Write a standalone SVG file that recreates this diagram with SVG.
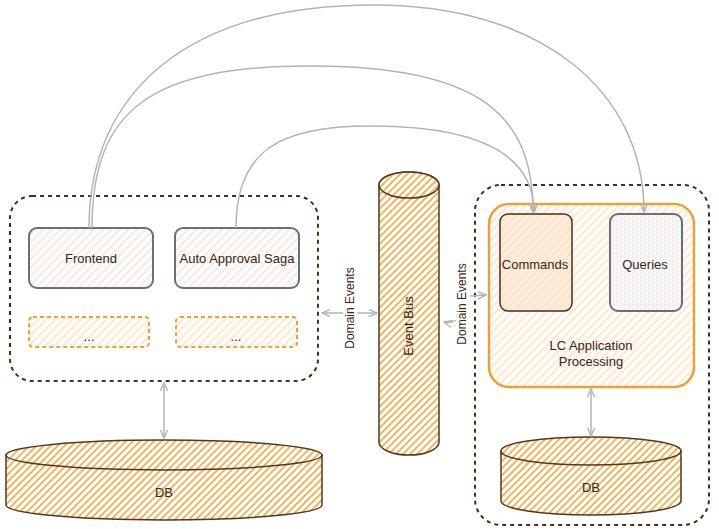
<svg xmlns="http://www.w3.org/2000/svg" width="719" height="529" viewBox="0 0 719 529">
<defs>
<pattern id="hOrange" width="5" height="5" patternUnits="userSpaceOnUse" patternTransform="rotate(45)"><rect width="5" height="5" fill="#ffffff"/><line x1="1" y1="0" x2="1" y2="5" stroke="#eea23a" stroke-width="1.6"/></pattern>
<pattern id="hLight" width="6" height="6" patternUnits="userSpaceOnUse" patternTransform="rotate(45)"><rect width="6" height="6" fill="#fffcf8"/><line x1="1" y1="0" x2="1" y2="6" stroke="#f8dfc0" stroke-width="1.3"/></pattern>
<pattern id="hBeige" width="6" height="6" patternUnits="userSpaceOnUse" patternTransform="rotate(45)"><rect width="6" height="6" fill="#fdfcfa"/><line x1="1" y1="0" x2="1" y2="6" stroke="#ede6dc" stroke-width="1.3"/></pattern>
<pattern id="hCmd" width="6" height="6" patternUnits="userSpaceOnUse" patternTransform="rotate(45)"><rect width="6" height="6" fill="#fcecda"/><line x1="1" y1="0" x2="1" y2="6" stroke="#f9e0c3" stroke-width="1.3"/></pattern>
<pattern id="dots" width="4" height="4" patternUnits="userSpaceOnUse"><rect width="4" height="4" fill="#f7f6f4"/><circle cx="1" cy="1" r="0.6" fill="#d6d6d6"/></pattern>
<marker id="ah" viewBox="0 0 10 10" refX="9" refY="5" markerWidth="9" markerHeight="9" markerUnits="userSpaceOnUse" orient="auto-start-reverse"><path d="M0,1 L9,5 L0,9" fill="none" stroke="#b4b4b4" stroke-width="1.6"/></marker>
</defs>
<style>
text{font-family:"Liberation Sans",Arial,sans-serif;font-size:13px;fill:#3b2414;text-anchor:middle}
.lbl{font-size:12px}
.cont{fill:none;stroke:#4a2c17;stroke-width:2;stroke-dasharray:4 4}
.gnode{fill:url(#hBeige);stroke:#6c6f77;stroke-width:2}
.dnode{fill:url(#hLight);stroke:#e9a23b;stroke-width:2;stroke-dasharray:4 3}
.cyl{fill:url(#hOrange);stroke:#5a3418;stroke-width:1.5}
.conn{fill:none;stroke:#b4b4b4;stroke-width:1.5}
</style>
<rect width="719" height="529" fill="#ffffff"/>

<g id="left-container"><rect class="cont" x="10" y="196" width="308" height="185" rx="22"/></g>
<g id="right-container"><rect class="cont" x="475" y="185" width="234" height="340" rx="26"/></g>

<g id="frontend"><rect class="gnode" x="29" y="228" width="124" height="60" rx="8"/><text x="91" y="263">Frontend</text></g>
<g id="saga"><rect class="gnode" x="175" y="228" width="124" height="60" rx="8"/><text x="237" y="263">Auto Approval Saga</text></g>
<g id="more1"><rect class="dnode" x="29" y="317" width="120" height="30" rx="4"/><text x="89" y="341">...</text></g>
<g id="more2"><rect class="dnode" x="176" y="317" width="121" height="30" rx="4"/><text x="236" y="341">...</text></g>

<g id="event-bus">
<path class="cyl" d="M379,185 L379,442 A30,13 0 0 0 439,442 L439,185 A30,13 0 0 0 379,185 Z"/>
<ellipse class="cyl" cx="409" cy="185" rx="30" ry="13"/>
<text transform="translate(413,326) rotate(-90)">Event Bus</text>
</g>

<g id="db-left">
<path class="cyl" d="M6,455 L6,505 A158,15 0 0 0 322,505 L322,455 Z"/>
<ellipse class="cyl" cx="164" cy="455" rx="158" ry="15"/>
<text x="164" y="497" font-size="11">DB</text>
</g>

<g id="lc-app">
<rect x="489" y="204" width="205" height="183" rx="20" fill="url(#hLight)" stroke="#e9a23b" stroke-width="2.5"/>
<text x="591" y="350">LC Application</text>
<text x="591" y="366">Processing</text>
</g>
<g id="commands"><rect x="500" y="214" width="72" height="97" rx="8" fill="url(#hCmd)" stroke="#4a2c17" stroke-width="1.5"/><text x="535" y="269">Commands</text></g>
<g id="queries"><rect x="610" y="214" width="72" height="97" rx="8" fill="url(#dots)" stroke="#6c6f77" stroke-width="2"/><text x="645" y="269">Queries</text></g>

<g id="db-right">
<path class="cyl" d="M501,451 L501,501 A90,14 0 0 0 681,501 L681,451 Z"/>
<ellipse class="cyl" cx="591" cy="451" rx="90" ry="14"/>
<text x="591" y="492" font-size="11">DB</text>
</g>

<g id="connectors">
<path class="conn" marker-end="url(#ah)" d="M89,228 C89,90 190,5 374,5 C540,5 644,90 644,212"/>
<path class="conn" marker-end="url(#ah)" d="M92,228 C92,110 150,66 311,66 C480,66 533,115 533,212"/>
<path class="conn" marker-end="url(#ah)" d="M236,228 C236,150 280,126 370,126 C470,126 534,150 534,212"/>
<path class="conn" marker-start="url(#ah)" d="M322,313 L343,313"/>
<path class="conn" marker-end="url(#ah)" d="M357,313 L377,313"/>
<path class="conn" marker-start="url(#ah)" marker-end="url(#ah)" d="M164,383 L164,438"/>
<path class="conn" marker-start="url(#ah)" marker-end="url(#ah)" d="M591,389 L591,436"/>
<path class="conn" marker-start="url(#ah)" d="M444,322 C448,323 452,323 456,320"/>
<path class="conn" marker-end="url(#ah)" d="M470,296 L486,295"/>
<text class="lbl" transform="translate(354,308) rotate(-90)">Domain Events</text>
<text class="lbl" transform="translate(466,304) rotate(-90)">Domain Events</text>
</g>
</svg>
